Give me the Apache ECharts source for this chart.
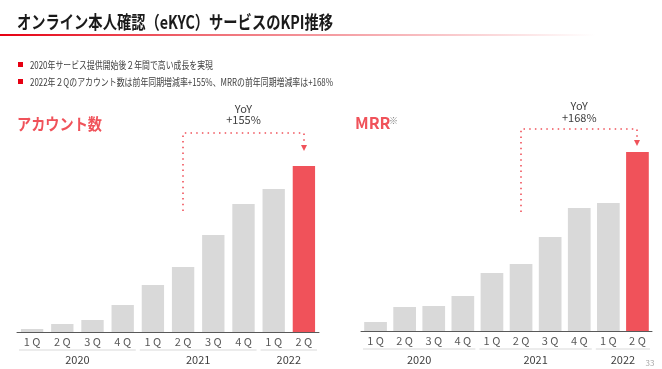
<!DOCTYPE html>
<html><head><meta charset="utf-8">
<script src="https://cdn.jsdelivr.net/npm/echarts@6/dist/echarts.min.js"></script>
<style>html,body{margin:0;padding:0;background:#fff}#c{width:662px;height:369px}</style>
</head><body><div id="c"></div>
<script>
const quarters = ['1Q','2Q','3Q','4Q','1Q','2Q','3Q','4Q','1Q','2Q'];
const years = ['2020','2021','2022'];
const yearSpans = [[0,3],[4,7],[8,9]];
const accounts = [3, 8, 12, 27, 47, 65, 97, 128, 143, 166];
const mrr = [9, 24, 25, 35, 58, 67, 94, 123, 128, 179];
const yoyLabels = ['YoY\n+155%', 'YoY\n+168%'];
const chartTitle = 'オンライン本人確認（eKYC）サービスのKPI推移';
const bullets = ['2020年サービス提供開始後２年間で高い成長を実現',
  '2022年２Qのアカウント数は前年同期増減率+155%、MRRの前年同期増減率は+168%'];

const RED = '#f0525a', GRAY = '#d9d9d9', JP = '"Noto Sans CJK JP", sans-serif';
const chart = echarts.init(document.getElementById('c'));
const mctx = document.createElement('canvas').getContext('2d');
function fitScale(text, font, target){ mctx.font = font; return target / mctx.measureText(text).width; }

function barData(arr){
  return arr.map((v,i)=>({value:v, itemStyle:{color: i===arr.length-1 ? RED : GRAY}}));
}
function xAxis(gi){
  return {type:'category', gridIndex:gi, data:quarters,
    axisLine:{lineStyle:{color:'#595959', width:1}}, axisTick:{show:false},
    axisLabel:{color:'#595959', fontSize:11, margin:4, fontFamily:JP,
      formatter:v=>v.split('').join(' ')}};
}
function yAxis(gi){
  return {type:'value', gridIndex:gi, min:0, max:200, show:false, splitLine:{show:false}};
}
chart.setOption({
  animation:false,
  grid:[{left:17, right:343, top:132, bottom:37},
        {left:361, right:10, top:131, bottom:38}],
  xAxis:[xAxis(0), xAxis(1)],
  yAxis:[yAxis(0), yAxis(1)],
  series:[
    {type:'bar', xAxisIndex:0, yAxisIndex:0, data:barData(accounts), barWidth:'74%'},
    {type:'bar', xAxisIndex:1, yAxisIndex:1, data:barData(mrr), barWidth:'78%'}
  ]
});

const g = [];
function fitText(text, font, x, y, target, fill){
  g.push({type:'text', x:x, y:y, scaleX:fitScale(text, font, target), originX:0, originY:0,
    style:{text:text, font:font, fill:fill, textVerticalAlign:'middle'}});
}
// title
fitText(chartTitle, 'bold 18px '+JP, 17, 22, 316, '#1a1a1a');
g.push({type:'rect', shape:{x:0, y:34, width:662, height:2},
  style:{fill:new echarts.graphic.LinearGradient(0,0,1,0,[{offset:0,color:'#e60012'},{offset:0.3,color:'#ef6a72'},{offset:0.9,color:'#ffffff'}])}});
// bullets
const bulletWidths = [183, 303];
bullets.forEach((b,i)=>{
  const y = 65 + i*17;
  g.push({type:'rect', shape:{x:18, y:y-3, width:5, height:5}, style:{fill:'#e60012'}});
  fitText(b, '10px '+JP, 30, y, bulletWidths[i], '#404040');
});
// panel titles
fitText('アカウント数', 'bold 16px '+JP, 17, 124, 85, RED);
g.push({type:'text', x:355, y:123, style:{text:'MRR', font:'bold 16px '+JP, fill:RED, textVerticalAlign:'middle'}});
g.push({type:'text', x:389, y:121, style:{text:'※', font:'9px '+JP, fill:'#7f7f7f', textVerticalAlign:'middle'}});

function px(gi, i, v){ return chart.convertToPixel({gridIndex:gi}, [i, v]); }

const annos = [{gi:0, from:5, to:9, bot:121, top:199, arrow:182, textY:[109,120]},
               {gi:1, from:5, to:9, bot:119, top:202, arrow:186, textY:[106,118]}];
annos.forEach((a,k)=>{
  const p1 = px(a.gi, a.from, a.bot), p2 = px(a.gi, a.from, a.top);
  const p3 = px(a.gi, a.to, a.top), p4 = px(a.gi, a.to, a.arrow);
  g.push({type:'polyline', shape:{points:[[Math.round(p1[0]),p1[1]],[Math.round(p2[0]),p2[1]],[Math.round(p3[0]),p3[1]],[Math.round(p4[0]),p4[1]-4]]},
    style:{stroke:RED, lineWidth:1.6, lineDash:[1.5,4.2], fill:null}});
  const ax = Math.round(p4[0]);
  g.push({type:'polygon', shape:{points:[[ax-3,p4[1]-5],[ax+3,p4[1]-5],[ax,p4[1]+1]]}, style:{fill:RED}});
  const lines = yoyLabels[k].split('\n');
  const cx = (p2[0]+p3[0])/2;
  lines.forEach((t,j)=>{
    g.push({type:'text', x:cx, y:a.textY[j], style:{text:t, font:'11px '+JP, fill:'#404040', textAlign:'center', textVerticalAlign:'middle'}});
  });
});

// year groups
[0,1].forEach(gi=>{
  const step = px(gi,1,0)[0]-px(gi,0,0)[0];
  const lineY = gi===0 ? 350 : 349;
  yearSpans.forEach((s,j)=>{
    const x1 = px(gi,s[0],0)[0]-step/2+2, x2 = px(gi,s[1],0)[0]+step/2-2;
    g.push({type:'line', shape:{x1:x1, y1:lineY, x2:x2, y2:lineY}, style:{stroke:'#d9d9d9', lineWidth:1}});
    g.push({type:'text', x:(px(gi,s[0],0)[0]+px(gi,s[1],0)[0])/2, y:360,
      style:{text:years[j], font:'11px '+JP, fill:'#404040', textAlign:'center', textVerticalAlign:'middle'}});
  });
});
g.push({type:'text', x:650, y:363, style:{text:'33', font:'8px '+JP, fill:'#a6a6a6', textAlign:'center', textVerticalAlign:'middle'}});

chart.setOption({graphic:g});
</script></body></html>
